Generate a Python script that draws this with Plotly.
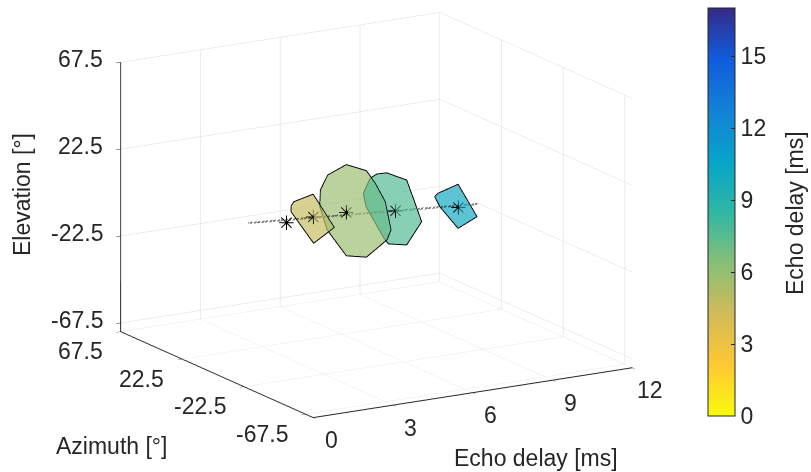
import plotly.graph_objects as go

# ---------------- data ----------------
centre_delay = [3.65, 4.66, 5.9, 7.75, 10.11]
centre_az = [17.5, 17.5, 17.5, 17.5, 17.5]
centre_el = [-7.5, -6.7, -7.0, -10.2, -13.5]

trend_delay = [2.22, 10.85]
trend_az = [17.5, 17.5]
trend_el = [-4.7, -13.4]

poly1_delay = 4.66
poly1_az = [33.5, 31.6, 17.5, 2.0, 17.1, 33.5]
poly1_el = [-6.2, -3.4, 5.0, -7.3, -20.3, -9.2]

poly2_delay = 5.9
poly2_az = [17.3, 2.7, -3.8, -11.1, -15.3, -12.3, 2.7, 17.3, 31.3, 36.7, 36.2, 30.9]
poly2_el = [17.7, 19.2, 14.7, 7.5, -5.8, -11.9, -25.6, -29.5, -20.5, -10.2, -1.4, 8.0]

poly3_delay = 7.75
poly3_az = [35.9, 31.0, 23.8, 9.2, 3.9, -1.7, 9.2, 22.6, 26.2, 38.8, 40.8]
poly3_el = [0.7, 4.5, 7.4, 8.3, -0.4, -9.8, -25.3, -29.0, -26.7, -14.9, -8.6]

poly4_delay = 10.11
poly4_az = [34.5, 32.1, 17.5, 3.7, 17.5, 30.8]
poly4_el = [-13.4, -10.9, -1.6, -14.0, -24.4, -17.4]

angle_ticks = [-67.5, -22.5, 22.5, 67.5]
angle_labels = ["-67.5", "-22.5", "22.5", "67.5"]
delay_ticks = [0, 3, 6, 9, 12]
cbar_ticks = [0, 3, 6, 9, 12, 15]

AZ_RANGE = [-73, 67.5]
EL_RANGE = [-72, 67.5]
DELAY_RANGE = [0, 12]

# ---------------- styling ----------------
parula = ["#352a87", "#0f5cdd", "#1481d6", "#06a4ca", "#2eb7a4",
          "#87bf77", "#d1bb59", "#fec832", "#f9fb0e"]
rev = parula[::-1]
cscale = [[i / (len(rev) - 1), c] for i, c in enumerate(rev)]
FONT = "Liberation Sans, Arial, sans-serif"
TXT = "#262626"
FS = 23
ZOOM = 1.725

fig = go.Figure()

polys = [
    (poly1_delay, poly1_az, poly1_el, centre_az[1], centre_el[1]),
    (poly2_delay, poly2_az, poly2_el, centre_az[2], centre_el[2]),
    (poly3_delay, poly3_az, poly3_el, centre_az[3], centre_el[3]),
    (poly4_delay, poly4_az, poly4_el, centre_az[4], centre_el[4]),
]

for n, (d, az, el, az0, el0) in enumerate(polys):
    m = len(az)
    xs = [d] * (m + 1)
    ys = [az0] + list(az)
    zs = [el0] + list(el)
    ii = [0] * m
    jj = [1 + k for k in range(m)]
    kk = [1 + (k + 1) % m for k in range(m)]
    mesh = dict(
        x=xs, y=ys, z=zs, i=ii, j=jj, k=kk,
        intensity=[d] * (m + 1), colorscale=cscale, cmin=0, cmax=17,
        opacity=0.68, flatshading=True,
        lighting=dict(ambient=1, diffuse=0, specular=0, roughness=1, fresnel=0),
        hoverinfo="skip", showscale=(n == 0),
    )
    if n == 0:
        mesh["colorbar"] = dict(
            x=708 / 811, xanchor="left", xpad=0,
            y=1 - 212 / 472, yanchor="middle", ypad=0,
            len=408 / 472, lenmode="fraction", thickness=27, thicknessmode="pixels",
            tickvals=cbar_ticks, ticks="inside", ticklen=4, tickcolor=TXT,
            outlinecolor=TXT, outlinewidth=1,
            tickfont=dict(family=FONT, size=FS, color=TXT),
        )
    fig.add_trace(go.Mesh3d(**mesh))
    fig.add_trace(go.Scatter3d(
        x=[d] * (m + 1), y=list(az) + [az[0]], z=list(el) + [el[0]],
        mode="lines", line=dict(color="black", width=2),
        hoverinfo="skip", showlegend=False))

fig.add_trace(go.Scatter3d(
    x=trend_delay, y=trend_az, z=trend_el, mode="lines",
    line=dict(color="black", width=4, dash="dot"),
    hoverinfo="skip", showlegend=False))

fig.add_trace(go.Scatter3d(
    x=centre_delay, y=centre_az, z=centre_el, mode="text",
    text=["✳"] * len(centre_delay), textposition="middle center",
    textfont=dict(family="DejaVu Sans", size=20, color="black"),
    hoverinfo="skip", showlegend=False))

axis_common = dict(
    showbackground=False, gridcolor="#dcdcdc", gridwidth=1,
    showline=True, linecolor=TXT, linewidth=2,
    ticks="outside", ticklen=5, tickcolor=TXT,
    showticklabels=False, title=dict(text=""),
    zeroline=False, showspikes=False,
)

# tick labels as scene annotations (horizontal text, like the reference)
tfont = dict(family=FONT, size=FS, color=TXT)
ann3d = []
for v, lab in zip(angle_ticks, angle_labels):
    ann3d.append(dict(x=0, y=AZ_RANGE[1], z=v, text=lab, showarrow=False,
                      xanchor="right", yanchor="middle", xshift=-16, yshift=3, font=tfont))
    ann3d.append(dict(x=0, y=v, z=EL_RANGE[0], text=lab, showarrow=False,
                      xanchor="right", yanchor="middle", xshift=-16, yshift=-19, font=tfont))
for v in delay_ticks:
    ann3d.append(dict(x=v, y=AZ_RANGE[0], z=EL_RANGE[0], text=str(v), showarrow=False,
                      xanchor="center", yanchor="middle", xshift=18, yshift=-22, font=tfont))

fig.update_layout(
    width=811, height=472,
    margin=dict(l=0, r=0, t=0, b=0),
    paper_bgcolor="white", plot_bgcolor="white",
    showlegend=False,
    scene=dict(
        domain=dict(x=[0, 0.928], y=[0.088, 1]),
        xaxis=dict(range=DELAY_RANGE, tickvals=delay_ticks, **axis_common),
        yaxis=dict(range=AZ_RANGE, tickvals=angle_ticks, **axis_common),
        zaxis=dict(range=EL_RANGE, tickvals=angle_ticks, **axis_common),
        aspectmode="manual",
        aspectratio=dict(x=1 * ZOOM, y=1.02 * ZOOM, z=0.753 * ZOOM),
        camera=dict(
            eye=dict(x=-0.491 * 2.0, y=-0.830 * 2.0, z=0.264 * 2.0),
            up=dict(x=0, y=0, z=1),
            center=dict(x=0, y=0, z=0),
            projection=dict(type="orthographic"),
        ),
        annotations=ann3d,
    ),
    annotations=[
        dict(x=22 / 811, y=1 - 195 / 472, xref="paper", yref="paper", text="Elevation [°]",
             textangle=-90, showarrow=False, xanchor="center", yanchor="middle", font=tfont),
        dict(x=112 / 811, y=1 - 446 / 472, xref="paper", yref="paper", text="Azimuth [°]",
             showarrow=False, xanchor="center", yanchor="middle", font=tfont),
        dict(x=536 / 811, y=1 - 458 / 472, xref="paper", yref="paper", text="Echo delay [ms]",
             showarrow=False, xanchor="center", yanchor="middle", font=tfont),
        dict(x=795 / 811, y=1 - 213 / 472, xref="paper", yref="paper", text="Echo delay [ms]",
             textangle=-90, showarrow=False, xanchor="center", yanchor="middle", font=tfont),
    ],
)

fig.write_html("out.html", config={"displayModeBar": False},
               post_script="document.body.style.margin='0px';")
